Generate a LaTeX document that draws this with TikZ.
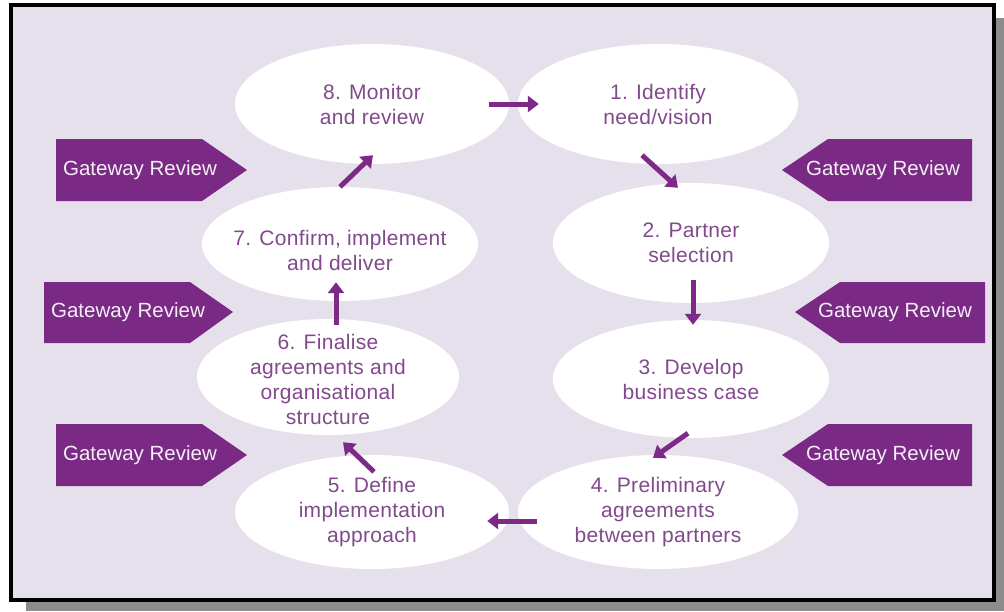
\documentclass[tikz,border=0pt]{standalone}
\usepackage{fontspec}
\setmainfont{Liberation Sans}
\newfontfamily\stagefont[LetterSpace=1.5]{Liberation Sans}
\usetikzlibrary{arrows.meta,calc,shapes.geometric}

\definecolor{panel}{HTML}{E6E0EC}
\definecolor{gatefill}{HTML}{7A2A84}
\definecolor{flowcol}{HTML}{7D2A86}
\definecolor{stagecol}{HTML}{824A8D}
\definecolor{shadowcol}{HTML}{8C8C8C}

\tikzset{
  stage/.style={ellipse, fill=white, draw=none, inner sep=0pt},
  stagetext/.style={align=center, text=stagecol, inner sep=0pt,
    font=\stagefont\fontsize{21}{25}\selectfont},
  flow/.style={draw=flowcol, line width=5pt, -{Triangle[length=11pt,width=16pt]}},
  gate/.style={fill=gatefill},
  gatetext/.style={text=white!92!gatefill, inner sep=0pt,
    font=\fontsize{20.5}{24}\selectfont},
}

\begin{document}
\begin{tikzpicture}[x=1pt,y=-1pt]
\useasboundingbox (0,0) rectangle (1004,611);

% drop shadow and framed panel
\fill[shadowcol] (26,18) rectangle (1004,611);
\draw[line width=4pt, fill=panel] (11,5) rectangle (994,600);

% stages of the cycle
\node[stage, minimum width=274pt, minimum height=120pt] (e8) at (372,104) {};
\node[stage, minimum width=280pt, minimum height=120pt] (e1) at (658,104) {};
\node[stage, minimum width=276pt, minimum height=120pt] (e2) at (691,243) {};
\node[stage, minimum width=276pt, minimum height=118pt] (e3) at (691,379) {};
\node[stage, minimum width=280pt, minimum height=114pt] (e4) at (658,512) {};
\node[stage, minimum width=274pt, minimum height=114pt] (e5) at (372,512) {};
\node[stage, minimum width=262pt, minimum height=116pt] (e6) at (328,377) {};
\node[stage, minimum width=276pt, minimum height=114pt] (e7) at (340,244) {};

\node[stagetext] (t8) at (e8) {8. Monitor\\and review};
\node[stagetext] (t1) at (e1) {1. Identify\\need/vision};
\node[stagetext] (t2) at (e2) {2. Partner\\selection};
\node[stagetext] (t3) at (e3) {3. Develop\\business case};
\node[stagetext] (t4) at (e4) {4. Preliminary\\agreements\\between partners};
\node[stagetext] (t5) at (e5) {5. Define\\implementation\\approach};
\node[stagetext] (t6) at ($(e6)+(0,2)$) {6. Finalise\\agreements and\\organisational\\structure};
\node[stagetext] (t7) at ($(e7)+(0,6)$) {7. Confirm, implement\\and deliver};

% flow between stages
\draw[flow] ($(e8.east)+(-20,0)$) -- ($(e1.west)+(21,0)$);
\draw[flow] ($(e1.south)+(-16,-9)$) -- ($(e2.north)+(-13,5)$);
\draw[flow] ($(e2.south)+(2,-23)$) -- ($(e3.north)+(2,5)$);
\draw[flow] ($(e3.south)+(-3,-5)$) -- ($(e4.north)+(-5,3)$);
\draw[flow] ($(e4.west)+(19,9)$) -- ($(e5.east)+(-22,9)$);
\draw[flow] ($(e5.north)+(2,17)$) -- ($(e6.south)+(15,7)$);
\draw[flow] ($(e6.north)+(8,6)$) -- ($(e7.south)+(-4,-19)$);
\draw[flow] ($(e7.north)+(0,0)$) -- ($(e8.south)+(1,-9)$);

% gateway reviews, left side (pointing right)
\fill[gate] (56,139) -- (202,139) -- (247,170) -- (202,201) -- (56,201) -- cycle;
\node[gatetext] (gl1) at (140,170) {Gateway Review};
\fill[gate] (44,282) -- (190,282) -- (233,312) -- (190,343) -- (44,343) -- cycle;
\node[gatetext] (gl2) at (128,312) {Gateway Review};
\fill[gate] (56,424) -- (202,424) -- (247,455) -- (202,486) -- (56,486) -- cycle;
\node[gatetext] (gl3) at (140,455) {Gateway Review};

% gateway reviews, right side (pointing left)
\fill[gate] (972,139) -- (828,139) -- (782,170) -- (828,201) -- (972,201) -- cycle;
\node[gatetext] (gr1) at (883,170) {Gateway Review};
\fill[gate] (985,282) -- (840,282) -- (795,312) -- (840,343) -- (985,343) -- cycle;
\node[gatetext] (gr2) at (895,312) {Gateway Review};
\fill[gate] (972,424) -- (828,424) -- (782,455) -- (828,486) -- (972,486) -- cycle;
\node[gatetext] (gr3) at (883,455) {Gateway Review};
\end{tikzpicture}
\end{document}
